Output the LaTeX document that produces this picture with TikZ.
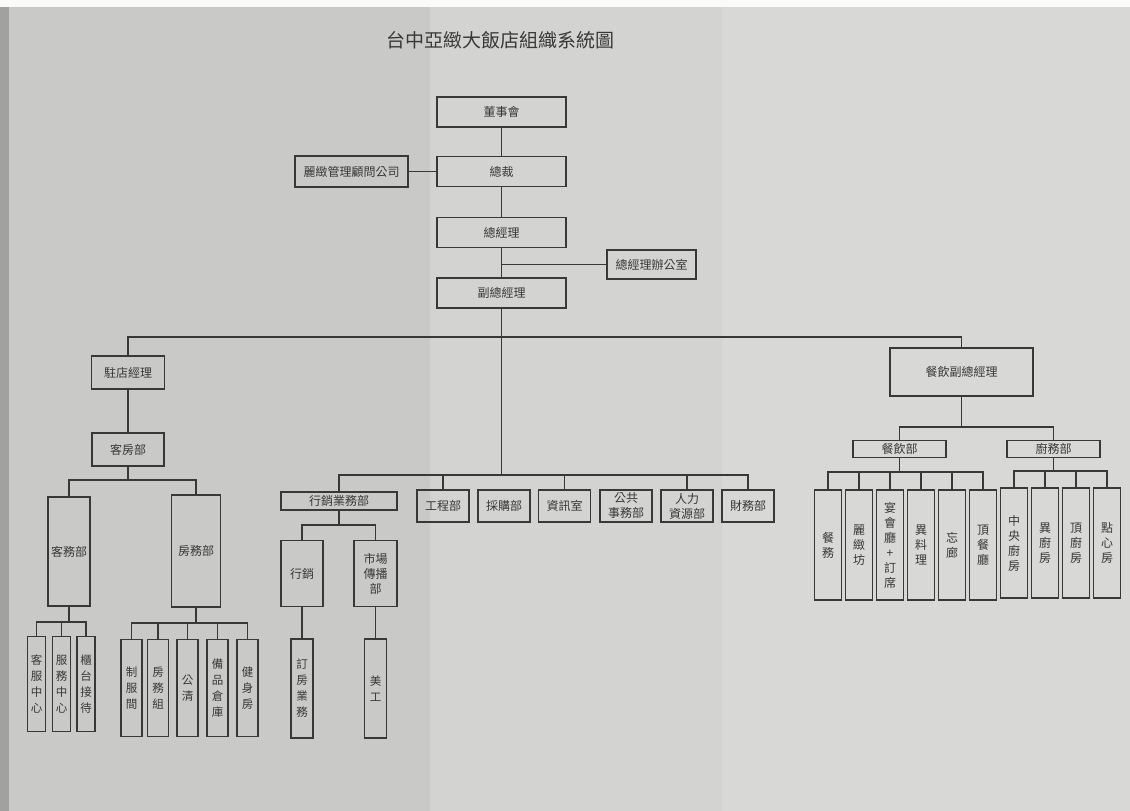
\documentclass[tikz,border=0pt]{standalone}
\usepackage{fontspec}
\newfontfamily\cjk{Noto Sans CJK TC}
\usetikzlibrary{positioning,calc}
\definecolor{paperleft}{HTML}{C9C9C7}
\definecolor{papermid}{HTML}{D3D3D1}
\definecolor{paperright}{HTML}{D8D8D6}
\definecolor{inkgray}{HTML}{383838}
\tikzset{
  link/.style={inkgray,line width=1.1pt},
  unit/.style={draw=inkgray,line width=1.2pt,text=inkgray,inner sep=0pt,align=center,
    font=\cjk\fontsize{12}{15}\selectfont},
  topbox/.style={unit,minimum width=129pt,minimum height=30pt},
  deptbox/.style={unit,minimum width=52pt,minimum height=32pt},
  kwchild/.style={unit,minimum width=18pt,minimum height=95pt,font=\cjk\fontsize{11.5}{16}\selectfont},
  fwchild/.style={unit,minimum width=21pt,minimum height=97pt,font=\cjk\fontsize{11.5}{16}\selectfont},
  fbchild/.style={unit,minimum width=27pt,minimum height=110pt,font=\cjk\fontsize{12}{15}\selectfont}
}

\begin{document}
\begin{tikzpicture}[x=1pt,y=-1pt]
  \useasboundingbox (0,0) rectangle (1130,811);
  % paper with its folds
  \fill[paperleft] (0,0) rectangle (430,811);
  \fill[papermid] (430,0) rectangle (722,811);
  \fill[paperright] (722,0) rectangle (1130,811);
  \fill[paperleft!80!black] (0,0) rectangle (9,811);
  \fill[white!90!paperleft] (0,0) rectangle (1130,7);

  \node[text=inkgray,font=\cjk\fontsize{19}{19}\selectfont] (title) at (500,40) {台中亞緻大飯店組織系統圖};

  % top levels
  \node[topbox] (dsh) at (501.5,112) {董事會};
  \node[unit,minimum width=113pt,minimum height=31pt] (lzgw) at (351.5,171.5) {麗緻管理顧問公司};
  \node[topbox] (zc) at (501.5,171.5) {總裁};
  \node[topbox] (zjl) at (501.5,232.5) {總經理};
  \node[unit,minimum width=89pt,minimum height=29pt] (zjlb) at (651.5,264.5) {總經理辦公室};
  \node[topbox] (fzjl) at (501.5,293) {副總經理};

  \coordinate (busT) at (0,337);
  \coordinate (busM) at (0,475);

  % rooms division
  \node[unit,minimum width=73pt,minimum height=33pt] (zdjl) at (128,372.5) {駐店經理};
  \node[unit,minimum width=72pt,minimum height=33pt] (kfb) at (128,449.5) {客房部};
  \node[unit,minimum width=42pt,minimum height=109pt] (kwb) at (69,551.5) {客務部};
  \node[unit,minimum width=49pt,minimum height=112pt] (fwb) at (196,551) {房務部};
  \foreach \n/\x/\t in {kw1/36.5/{客\\服\\中\\心},kw2/61.5/{服\\務\\中\\心},kw3/86/{櫃\\台\\接\\待}}
    \node[kwchild] (\n) at (\x,684) {\t};
  \foreach \n/\x/\t in {fw1/131.5/{制\\服\\間},fw2/158/{房\\務\\組},fw3/187.5/{公\\清},
      fw4/217.5/{備\\品\\倉\\庫},fw5/247.5/{健\\身\\房}}
    \node[fwchild] (\n) at (\x,688) {\t};
  \coordinate (busK) at (0,480);
  \coordinate (busKW) at (0,622);
  \coordinate (busFW) at (0,623);

  % departments under the deputy general manager
  \node[unit,minimum width=116pt,minimum height=18pt] (xyyw) at (339,501) {行銷業務部};
  \node[deptbox] (gcb) at (443,506) {工程部};
  \node[deptbox] (cgb) at (504,506) {採購部};
  \node[deptbox] (zxs) at (564.5,506) {資訊室};
  \node[deptbox] (ggsw) at (626,506) {公共\\事務部};
  \node[deptbox] (rlzy) at (687,506) {人力\\資源部};
  \node[deptbox] (cwb) at (748,506) {財務部};
  \node[unit,minimum width=42pt,minimum height=66pt] (xx) at (302,573.5) {行銷};
  \node[unit,minimum width=43pt,minimum height=66pt] (scb) at (375.5,573.5) {市場\\傳播\\部};
  \node[unit,minimum width=22pt,minimum height=99pt,font=\cjk\fontsize{11.5}{16}\selectfont] (dfyw) at (302,688.5) {訂\\房\\業\\務};
  \node[unit,minimum width=22pt,minimum height=99pt,font=\cjk\fontsize{11.5}{16}\selectfont] (mg) at (375.5,688.5) {美\\工};
  \coordinate (busXY) at (0,525);

  % food and beverage
  \node[unit,minimum width=143pt,minimum height=48pt] (cyfz) at (961.5,372) {餐飲副總經理};
  \node[unit,minimum width=93pt,minimum height=17pt] (cyb) at (899.5,449) {餐飲部};
  \node[unit,minimum width=93pt,minimum height=17pt] (cwu) at (1053.5,449) {廚務部};
  \foreach \n/\x/\t in {cy1/828/{餐\\務},cy2/859/{麗\\緻\\坊},cy3/890/{宴\\會\\廳\\+\\訂\\席},
      cy4/921/{異\\料\\理},cy5/952/{忘\\廊},cy6/983/{頂\\餐\\廳}}
    \node[fbchild] (\n) at (\x,545) {\t};
  \foreach \n/\x/\t in {cw1/1014/{中\\央\\廚\\房},cw2/1045/{異\\廚\\房},cw3/1076/{頂\\廚\\房},cw4/1107/{點\\心\\房}}
    \node[fbchild] (\n) at (\x,543) {\t};
  \coordinate (busCY) at (0,427);
  \coordinate (busCYB) at (0,472);
  \coordinate (busCWU) at (0,471);

  % connectors
  \draw[link] (dsh) -- (zc);
  \draw[link] (lzgw) -- (zc);
  \draw[link] (zc) -- (zjl);
  \draw[link] (zjl) -- (fzjl);
  \draw[link] (zjlb.west) -- (zjlb.west -| zjl.south);
  \draw[link] (fzjl.south) -- (fzjl.south |- busM);
  \draw[link] (zdjl.north) |- (busT -| cyfz.north) -- (cyfz.north);

  \draw[link] (zdjl) -- (kfb);
  \draw[link] (kfb.south) -- (kfb.south |- busK);
  \draw[link] (kwb.north) |- (busK -| fwb.north) -- (fwb.north);
  \draw[link] (kwb.south) -- (kwb.south |- busKW);
  \draw[link] (kw1.north) |- (busKW -| kw3.north) -- (kw3.north);
  \draw[link] (kw2.north) -- (kw2.north |- busKW);
  \draw[link] (fwb.south) -- (fwb.south |- busFW);
  \draw[link] (fw1.north) |- (busFW -| fw5.north) -- (fw5.north);
  \foreach \n in {fw2,fw3,fw4}
    \draw[link] (\n.north) -- (\n.north |- busFW);

  \draw[link] (xyyw.north) |- (busM -| cwb.north) -- (cwb.north);
  \foreach \n in {gcb,zxs,rlzy}
    \draw[link] (\n.north) -- (\n.north |- busM);
  \draw[link] (xyyw.south) -- (xyyw.south |- busXY);
  \draw[link] (xx.north) |- (busXY -| scb.north) -- (scb.north);
  \draw[link] (xx) -- (dfyw);
  \draw[link] (scb) -- (mg);

  \draw[link] (cyfz.south) -- (cyfz.south |- busCY);
  \draw[link] (cyb.north) |- (busCY -| cwu.north) -- (cwu.north);
  \draw[link] (cyb.south) -- (cyb.south |- busCYB);
  \draw[link] (cy1.north) |- (busCYB -| cy6.north) -- (cy6.north);
  \foreach \n in {cy2,cy3,cy4,cy5}
    \draw[link] (\n.north) -- (\n.north |- busCYB);
  \draw[link] (cwu.south) -- (cwu.south |- busCWU);
  \draw[link] (cw1.north) |- (busCWU -| cw4.north) -- (cw4.north);
  \foreach \n in {cw2,cw3}
    \draw[link] (\n.north) -- (\n.north |- busCWU);
\end{tikzpicture}
\end{document}
